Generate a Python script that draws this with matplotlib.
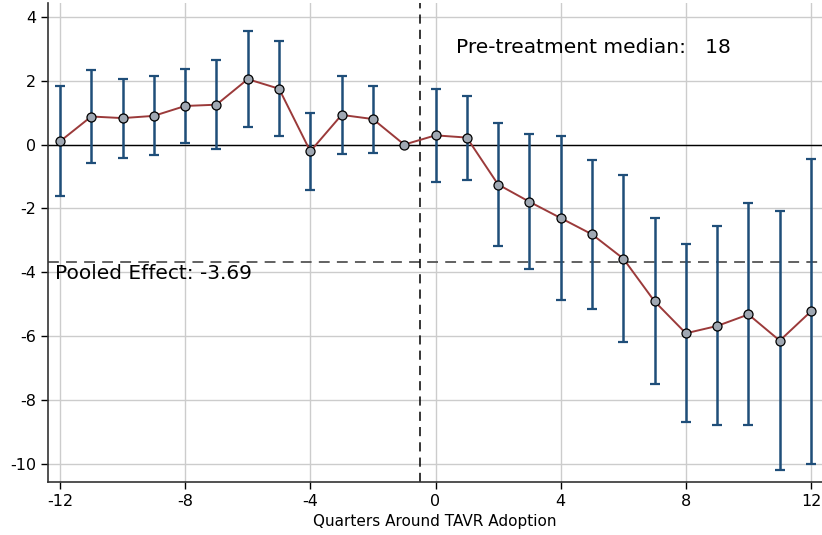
import matplotlib
matplotlib.use("Agg")
import matplotlib.pyplot as plt
import numpy as np

# event-study estimates
quarters = list(range(-12, 13))
coef = [0.10, 0.88, 0.83, 0.90, 1.21, 1.25, 2.05, 1.75, -0.21, 0.93, 0.80, 0.0,
        0.29, 0.22, -1.25, -1.79, -2.30, -2.81, -3.57, -4.91, -5.91, -5.68, -5.32, -6.14, -5.22]
ci_hi = [1.82, 2.35, 2.07, 2.15, 2.36, 2.65, 3.57, 3.23, 0.99, 2.16, 1.85, 0.0,
         1.75, 1.53, 0.67, 0.33, 0.26, -0.49, -0.96, -2.30, -3.11, -2.55, -1.82, -2.07, -0.44]
ci_lo = [-1.60, -0.58, -0.41, -0.33, 0.05, -0.14, 0.54, 0.27, -1.42, -0.30, -0.26, 0.0,
         -1.18, -1.11, -3.17, -3.90, -4.87, -5.16, -6.19, -7.51, -8.69, -8.79, -8.79, -10.18, -9.99]
pooled = -3.69
pre_median = 18

plt.rcParams['axes.unicode_minus'] = False
plt.rcParams['font.family'] = 'DejaVu Sans'

fig = plt.figure(figsize=(8.22, 5.35), dpi=100)
ax = fig.add_axes([0.0585, 0.0995, 0.9415, 0.894])

x = np.array(quarters)
y = np.array(coef)
hi = np.array(ci_hi)
lo = np.array(ci_lo)
has_ci = hi != lo

ax.grid(True, color='#cccccc', linewidth=1.0, zorder=0)
ax.axhline(0, color='black', linewidth=1.0, zorder=1.7)
ax.axhline(pooled, color='#555555', linewidth=1.3, linestyle=(0, (6, 4)), zorder=1.7)
ax.axvline(-0.5, color='black', linewidth=1.1, linestyle=(0, (6, 4)), zorder=1.7)

ax.errorbar(x[has_ci], y[has_ci], yerr=[y[has_ci] - lo[has_ci], hi[has_ci] - y[has_ci]],
            fmt='none', ecolor='#1f4e79', elinewidth=1.8, capsize=3.5, capthick=1.6, zorder=2)
ax.plot(x, y, color='#9b3a3a', linewidth=1.4, zorder=3)
ax.plot(x, y, linestyle='none', marker='o', markersize=6.5, markerfacecolor='#a0a8b3',
        markeredgecolor='black', markeredgewidth=0.9, zorder=4)

ax.text(0.65, 3.03, 'Pre-treatment median:   %d' % pre_median, fontsize=14.5, va='center', ha='left')
ax.text(-12.15, pooled - 0.06, 'Pooled Effect: %.2f' % pooled, fontsize=14.5, va='top', ha='left')

ax.set_xlim(-12.38, 12.35)
ax.set_ylim(-10.56, 4.42)
ax.set_xticks(range(-12, 13, 4))
ax.set_yticks(range(-10, 5, 2))
ax.tick_params(labelsize=11.5, length=5, width=1, direction='out')
ax.set_xlabel('Quarters Around TAVR Adoption', fontsize=11)

for s in ['top', 'right']:
    ax.spines[s].set_visible(False)
for s in ['left', 'bottom']:
    ax.spines[s].set_color('#333333')
    ax.spines[s].set_linewidth(1.2)

fig.savefig('out.png', dpi=100)
